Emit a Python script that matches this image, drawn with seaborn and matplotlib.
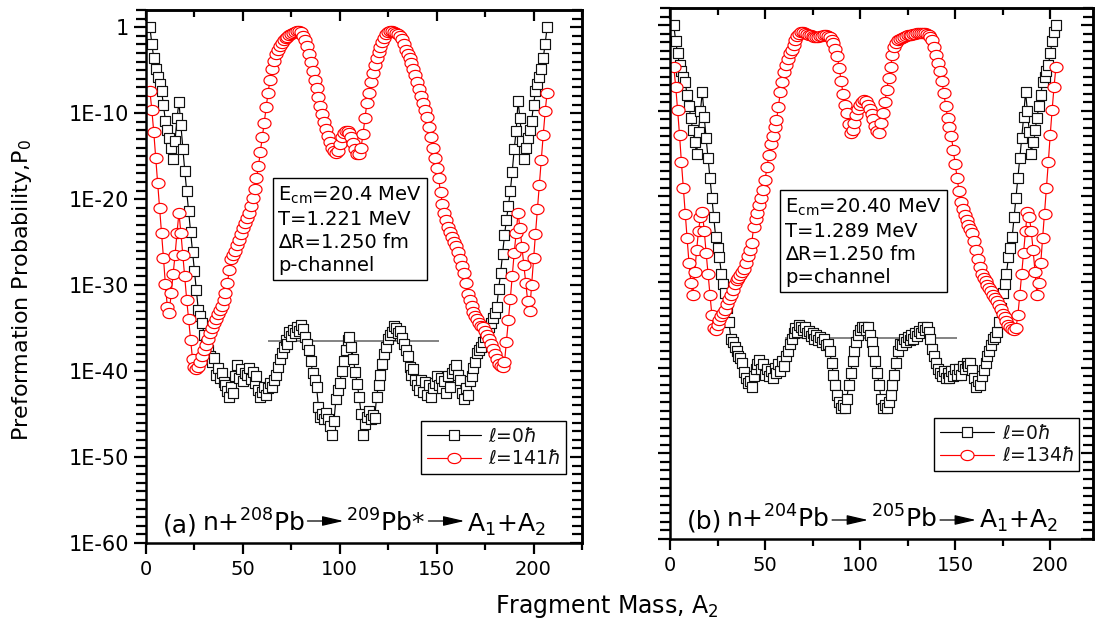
import numpy as np
import pandas as pd
import matplotlib
matplotlib.use("Agg")
import matplotlib.pyplot as plt
from matplotlib.path import Path
from matplotlib.lines import Line2D
from matplotlib.ticker import FixedLocator, FixedFormatter, NullFormatter, MultipleLocator
import seaborn as sns

sns.set_style("ticks")
plt.rcParams['font.family'] = ['DejaVu Sans']
plt.rcParams['mathtext.fontset'] = 'dejavusans'
for k in ('text.color', 'axes.labelcolor', 'xtick.color', 'ytick.color', 'axes.edgecolor'):
    plt.rcParams[k] = 'black'

# ---------------- data (log10 of P0) ----------------
a2_left = list(range(2, 208))
logp_left_l0 = [
    0.0, -1.9, -3.6, -4.9, -5.8, -6.6, -7.4, -9.0, -10.9, -12.0,
    -12.9, -14.0, -15.3, -13.2, -10.6, -8.7, -11.4, -14.2, -16.7, -19.1,
    -21.4, -23.8, -26.1, -28.4, -30.6, -32.9, -33.6, -34.4, -35.8, -36.9,
    -37.6, -38.2, -38.9, -38.5, -40.4, -39.6, -40.8, -40.2, -41.3, -41.6,
    -42.3, -43.0, -41.8, -42.6, -40.6, -39.3, -40.8, -39.8, -41.2, -40.2,
    -40.4, -39.7, -40.9, -40.1, -41.4, -40.6, -42.2, -43.0, -42.4, -41.8,
    -42.8, -42.0, -41.4, -41.8, -41.0, -40.4, -39.5, -38.6, -37.9, -37.2,
    -36.4, -36.8, -35.5, -35.9, -35.2, -35.6, -34.9, -35.3, -34.6, -35.1,
    -36.0, -36.9, -37.5, -38.8, -40.2, -41.0, -41.8, -44.2, -45.4, -45.0,
    -45.6, -44.9, -45.6, -46.4, -47.4, -45.8, -43.3, -42.2, -41.4, -40.0,
    -38.8, -37.5, -36.4, -36.0, -37.2, -38.6, -40.1, -41.5, -43.0, -45.0,
    -47.4, -46.2, -45.3, -44.7, -45.6, -45.1, -45.5, -43.0, -41.6, -40.4,
    -39.2, -38.0, -37.2, -36.3, -35.8, -35.4, -34.7, -35.0, -35.6, -35.3,
    -36.2, -36.8, -37.6, -38.3, -39.5, -40.4, -39.8, -41.0, -41.6, -42.2,
    -41.0, -42.4, -41.3, -42.8, -41.6, -43.0, -42.0, -41.4, -40.6, -41.6,
    -40.8, -42.0, -41.2, -42.6, -40.6, -41.8, -40.2, -39.8, -39.3, -40.4,
    -41.0, -42.6, -43.3, -42.0, -42.8, -41.2, -40.6, -39.6, -38.9, -37.9,
    -37.6, -37.2, -36.6, -36.0, -35.4, -34.9, -34.4, -33.8, -33.2, -32.6,
    -30.4, -28.6, -26.4, -24.2, -22.4, -20.8, -19.1, -16.8, -14.2, -12.1,
    -8.6, -10.6, -13.2, -15.3, -14.0, -12.9, -12.0, -10.9, -9.0, -7.4,
    -6.6, -5.8, -4.9, -3.6, -1.9, 0.0,
]
logp_left_l141 = [
    -7.4, -9.6, -12.2, -15.2, -18.1, -21.0, -23.9, -26.8, -29.9, -32.5,
    -33.3, -30.9, -28.7, -26.5, -23.9, -21.6, -23.9, -26.5, -29.0, -31.7,
    -34.0, -36.4, -38.6, -39.5, -39.8, -39.5, -39.0, -38.3, -37.6, -37.0,
    -36.3, -35.6, -35.0, -34.4, -33.9, -33.4, -32.9, -32.4, -31.7, -30.9,
    -29.8, -28.2, -27.0, -26.5, -26.0, -25.3, -24.7, -24.1, -23.4, -22.8,
    -22.2, -21.6, -20.8, -19.9, -18.8, -17.6, -16.2, -14.5, -12.8, -11.1,
    -9.3, -7.6, -6.1, -4.9, -3.9, -3.1, -2.6, -2.2, -1.8, -1.5,
    -1.3, -1.1, -0.9, -0.8, -0.7, -0.6, -0.5, -0.5, -0.6, -1.0,
    -1.5, -2.2, -3.1, -4.1, -5.1, -6.1, -7.1, -8.1, -9.2, -10.1,
    -11.0, -11.9, -12.7, -13.4, -14.0, -14.4, -14.6, -14.4, -13.6, -12.8,
    -12.3, -12.1, -12.1, -12.3, -12.8, -13.5, -14.2, -14.7, -14.8, -14.0,
    -12.4, -10.6, -8.8, -7.6, -6.4, -5.3, -4.4, -3.6, -2.9, -2.3,
    -1.7, -1.2, -0.8, -0.6, -0.5, -0.5, -0.6, -0.7, -0.8, -1.0,
    -1.4, -2.0, -2.6, -3.1, -3.6, -4.2, -4.9, -5.6, -6.4, -7.2,
    -8.0, -8.8, -9.6, -10.5, -11.6, -12.8, -14.0, -15.2, -16.4, -17.6,
    -19.2, -20.6, -21.6, -22.4, -23.2, -23.8, -24.4, -25.0, -25.5, -26.2,
    -27.0, -27.8, -28.6, -29.8, -31.0, -31.7, -32.4, -33.1, -33.6, -34.0,
    -34.4, -34.7, -34.9, -35.3, -35.8, -36.3, -36.8, -37.4, -38.0, -38.6,
    -39.2, -39.4, -39.5, -39.0, -36.6, -34.1, -31.6, -28.9, -26.3, -23.9,
    -21.6, -23.4, -25.6, -27.7, -29.8, -31.9, -33.0, -30.0, -26.9, -24.0,
    -21.2, -18.3, -15.4, -12.5, -9.8, -7.6,
]
a2_right = list(range(2, 204))
logp_right_l0 = [
    0.0, -1.9, -3.3, -4.7, -5.4, -6.0, -6.6, -8.2, -9.5, -10.9,
    -12.3, -13.6, -15.0, -12.5, -10.0, -7.8, -10.7, -13.2, -15.5, -17.9,
    -20.2, -22.4, -24.7, -26.0, -27.1, -29.0, -30.2, -31.3, -33.0, -34.7,
    -36.6, -37.0, -37.6, -38.0, -38.6, -38.9, -39.5, -40.5, -41.2, -41.8,
    -41.5, -42.3, -41.0, -40.2, -39.6, -39.1, -40.2, -39.6, -40.8, -40.1,
    -41.0, -40.4, -41.2, -40.0, -40.6, -39.6, -40.4, -39.2, -39.8, -38.6,
    -38.0, -37.2, -36.6, -36.0, -35.4, -35.8, -35.0, -35.3, -35.6, -35.2,
    -36.0, -35.7, -36.3, -36.0, -36.6, -36.2, -36.8, -36.4, -37.0, -36.7,
    -37.4, -37.2, -38.0, -39.5, -40.8, -42.0, -43.2, -44.0, -44.7, -44.4,
    -44.7, -43.6, -42.0, -40.6, -39.2, -38.0, -37.0, -36.2, -35.6, -35.3,
    -35.3, -35.6, -35.3, -36.2, -37.0, -38.0, -39.2, -40.6, -42.0, -43.6,
    -44.7, -44.4, -44.7, -44.0, -43.2, -42.0, -40.8, -39.5, -38.0, -37.2,
    -37.4, -36.7, -37.0, -36.4, -36.8, -36.2, -36.6, -36.0, -36.3, -35.7,
    -36.0, -35.2, -35.6, -35.3, -35.8, -36.6, -37.8, -38.6, -39.4, -40.2,
    -40.6, -41.0, -40.4, -41.2, -40.6, -41.2, -40.4, -41.0, -40.2, -40.8,
    -40.2, -40.8, -39.8, -40.2, -39.4, -39.8, -39.5, -40.3, -41.2, -42.2,
    -41.6, -42.0, -41.0, -40.3, -39.4, -38.6, -38.0, -37.3, -36.6, -36.4,
    -35.8, -34.7, -33.0, -31.3, -30.2, -29.0, -27.1, -26.0, -24.7, -22.4,
    -20.2, -17.9, -15.5, -13.2, -10.7, -7.8, -10.0, -12.5, -15.0, -13.6,
    -12.3, -10.9, -9.5, -8.2, -6.6, -6.0, -5.4, -4.7, -3.3, -1.9,
    -0.8, 0.0,
]
logp_right_l134 = [
    -4.9, -7.2, -9.9, -12.8, -16.0, -19.0, -22.0, -24.9, -27.8, -30.1,
    -31.5, -28.8, -26.3, -24.0, -22.4, -21.8, -24.0, -26.6, -29.0, -31.5,
    -33.8, -35.4, -35.6, -35.0, -34.4, -34.0, -33.6, -33.3, -32.6, -32.0,
    -31.5, -30.9, -30.2, -29.8, -29.5, -29.2, -28.8, -28.5, -27.8, -27.0,
    -26.3, -25.4, -23.6, -22.6, -21.9, -21.0, -20.2, -19.2, -18.1, -16.6,
    -15.2, -13.9, -12.9, -11.9, -11.1, -9.6, -7.8, -6.6, -5.5, -4.7,
    -3.9, -3.3, -2.9, -2.3, -1.7, -1.3, -1.0, -0.8, -0.8, -0.9,
    -1.0, -1.1, -1.2, -1.3, -1.35, -1.35, -1.35, -1.3, -1.25, -1.2,
    -1.2, -1.3, -1.4, -1.7, -2.1, -2.8, -3.6, -5.0, -6.5, -8.0,
    -9.3, -10.3, -11.6, -12.6, -12.2, -11.4, -10.5, -9.8, -9.3, -9.0,
    -8.8, -8.9, -9.3, -9.8, -10.4, -11.0, -11.8, -12.4, -12.6, -11.4,
    -10.3, -9.0, -7.6, -6.2, -4.9, -3.5, -2.6, -2.1, -1.75, -1.6,
    -1.5, -1.4, -1.3, -1.2, -1.15, -1.1, -1.0, -1.0, -0.95, -0.95,
    -0.95, -0.95, -0.95, -1.0, -1.1, -1.4, -1.75, -2.6, -3.5, -4.4,
    -5.3, -6.5, -7.9, -9.4, -10.8, -11.9, -13.0, -14.6, -16.2, -17.8,
    -19.4, -20.6, -21.5, -22.2, -22.8, -23.3, -23.8, -24.3, -25.2, -26.3,
    -27.3, -28.2, -29.0, -29.5, -29.9, -30.3, -30.7, -31.1, -31.5, -31.9,
    -32.2, -32.7, -33.2, -33.7, -34.1, -34.6, -35.0, -35.3, -35.5, -35.6,
    -35.4, -33.8, -31.5, -29.0, -26.6, -24.0, -21.8, -22.4, -24.0, -26.3,
    -28.8, -31.5, -30.1, -27.8, -24.9, -22.0, -19.0, -16.0, -12.8, -9.9,
    -7.2, -4.9,
]

# horizontal reference segments: (A2 start, A2 end, log10 P0)
ref_seg_left = (63, 151, -36.5)
ref_seg_right = (60.5, 151, -36.5)

ytick_exps = [0, -10, -20, -30, -40, -50, -60]
ytick_labels = ['1', '1E-10', '1E-20', '1E-30', '1E-40', '1E-50', '1E-60']

legend_left = [r'$\ell$=0$\hbar$', r'$\ell$=141$\hbar$']
legend_right = [r'$\ell$=0$\hbar$', r'$\ell$=134$\hbar$']
box_left = 'E$_{\\mathrm{cm}}$=20.4 MeV\nT=1.221 MeV\n\u2206R=1.250 fm\np-channel'
box_right = 'E$_{\\mathrm{cm}}$=20.40 MeV\nT=1.289 MeV\n\u2206R=1.250 fm\np=channel'
chain_left = ['(a)', 'n+$^{208}$Pb', None, '$^{209}$Pb*', None, 'A$_1$+A$_2$']
chain_right = ['(b)', 'n+$^{204}$Pb', None, '$^{205}$Pb', None, 'A$_1$+A$_2$']

# ---------------- styling ----------------
W, H = 1095, 629
fig = plt.figure(figsize=(W / 100, H / 100), dpi=100)
fig.patch.set_facecolor('white')

t = np.linspace(0, 2 * np.pi, 64)
ellipse = Path(np.column_stack([np.cos(t), 0.78 * np.sin(t)]), closed=True)
square = Path([(-1, -0.92), (1, -0.92), (1, 0.92), (-1, 0.92), (-1, -0.92)], closed=True)

sq_kw = dict(marker=square, markersize=7.6, markerfacecolor='white',
             markeredgecolor='#111111', markeredgewidth=0.85, color='black', linewidth=0.85)
ci_kw = dict(marker=ellipse, markersize=9.4, markerfacecolor='white',
             markeredgecolor='#ff0000', markeredgewidth=0.85, color='#ff0000', linewidth=0.85)


def px_rect(x0, y0, x1, y1):
    return [x0 / W, 1 - y1 / H, (x1 - x0) / W, (y1 - y0) / H]


def style_axes(ax, xmax, show_ylabels):
    ax.set_yscale('log')
    ax.set_ylim(1e-60, 1e2)
    ax.set_xlim(0, xmax)
    ax.xaxis.set_major_locator(MultipleLocator(50))
    ax.xaxis.set_minor_locator(MultipleLocator(25))
    ax.yaxis.set_major_locator(FixedLocator([10.0 ** e for e in ytick_exps]))
    ax.yaxis.set_minor_locator(FixedLocator([10.0 ** e for e in range(-60, 3) if e % 10 != 0]))
    if show_ylabels:
        ax.yaxis.set_major_formatter(FixedFormatter(ytick_labels))
    else:
        ax.yaxis.set_major_formatter(NullFormatter())
    ax.yaxis.set_minor_formatter(NullFormatter())
    ax.tick_params(axis='y', which='major', direction='out', length=9, width=1.6, labelsize=15, pad=3,
                   colors='black')
    ax.tick_params(axis='y', which='minor', direction='out', length=7, width=1.6, colors='black')
    ax.tick_params(axis='x', which='major', direction='out', length=8, width=1.6, labelsize=14, pad=4,
                   colors='black')
    ax.tick_params(axis='x', which='minor', direction='out', length=5, width=1.6, colors='black')
    for s in ax.spines.values():
        s.set_linewidth(1.8)
        s.set_color('black')
        s.set_visible(True)
    ax.set_xlabel('')
    ax.set_ylabel('')
    # mirrored inward ticks
    top = ax.secondary_xaxis('top')
    top.xaxis.set_major_locator(MultipleLocator(50))
    top.xaxis.set_minor_locator(MultipleLocator(25))
    top.xaxis.set_major_formatter(NullFormatter())
    top.tick_params(which='major', direction='in', length=8, width=1.6, colors='black')
    top.tick_params(which='minor', direction='in', length=5, width=1.6, colors='black')
    top.spines['top'].set_linewidth(1.8)
    top.spines['top'].set_color('black')
    right = ax.secondary_yaxis('right')
    right.yaxis.set_major_locator(FixedLocator([10.0 ** e for e in ytick_exps]))
    right.yaxis.set_minor_locator(FixedLocator([10.0 ** e for e in range(-60, 3) if e % 10 != 0]))
    right.yaxis.set_major_formatter(NullFormatter())
    right.yaxis.set_minor_formatter(NullFormatter())
    right.tick_params(which='major', direction='in', length=9, width=1.6, colors='black')
    right.tick_params(which='minor', direction='in', length=7, width=1.6, colors='black')
    right.spines['right'].set_linewidth(1.8)
    right.spines['right'].set_color('black')


def draw_panel(ax, a2, l0, lx, seg):
    d0 = pd.DataFrame({'A2': a2, 'P0': 10.0 ** np.array(l0)})
    d1 = pd.DataFrame({'A2': a2, 'P0': 10.0 ** np.array(lx)})
    sns.lineplot(data=d0, x='A2', y='P0', ax=ax, sort=False, errorbar=None, legend=False, **sq_kw)
    sns.lineplot(data=d1, x='A2', y='P0', ax=ax, sort=False, errorbar=None, legend=False, **ci_kw)
    ax.hlines(10.0 ** seg[2], seg[0], seg[1], color='#6e6e6e', lw=1.2, zorder=1)
    return [Line2D([], [], **sq_kw), Line2D([], [], **ci_kw)]


axL = fig.add_axes(px_rect(146, 10, 582, 543))
axR = fig.add_axes(px_rect(670, 8, 1093, 539))

hL = draw_panel(axL, a2_left, logp_left_l0, logp_left_l141, ref_seg_left)
hR = draw_panel(axR, a2_right, logp_right_l0, logp_right_l134, ref_seg_right)
style_axes(axL, 225, True)
style_axes(axR, 222.5, False)

leg_kw = dict(frameon=True, fancybox=False, framealpha=1, edgecolor='black', fontsize=13.5,
              borderpad=0.3, handlelength=2.9, handletextpad=0.4, labelspacing=0.2,
              borderaxespad=0, loc='upper left')
lgL = axL.legend(hL, legend_left, bbox_to_anchor=((421 - 146) / 436, (543 - 421) / 533), **leg_kw)
lgR = axR.legend(hR, legend_right, bbox_to_anchor=((934 - 670) / 423, (539 - 418) / 531), **leg_kw)
for lg in (lgL, lgR):
    lg.get_frame().set_linewidth(1.0)
    for tx in lg.get_texts():
        tx.set_color('#111111')

box_kw = dict(boxstyle='square,pad=0.28', fc='white', ec='black', lw=1.0)
axL.text((278 - 146) / 436, (543 - 185) / 533, box_left, transform=axL.transAxes, fontsize=14,
         va='top', ha='left', linespacing=1.25, bbox=box_kw)
axR.text((785 - 670) / 423, (539 - 197) / 531, box_right, transform=axR.transAxes, fontsize=14,
         va='top', ha='left', linespacing=1.25, bbox=box_kw)

fig.text(22 / W, 1 - 290 / H, 'Preformation Probability,P$_0$', rotation=90,
         ha='center', va='center', fontsize=16)
fig.text(607 / W, 1 - 607 / H, 'Fragment Mass, A$_2$', ha='center', va='center', fontsize=17)

# reaction chains with arrows
fig.canvas.draw()
renderer = fig.canvas.get_renderer()


def draw_chain(pieces, x0, baseline, arrow_y, fs, arrow_len):
    x = x0
    for p in pieces:
        if p is None:
            xs = x + 3
            xe = xs + arrow_len
            fig.add_artist(matplotlib.patches.FancyArrowPatch(
                (xs / W, 1 - arrow_y / H), (xe / W, 1 - arrow_y / H), transform=fig.transFigure,
                arrowstyle='-|>,head_length=1.3,head_width=0.3', mutation_scale=10,
                color='black', lw=0.9, shrinkA=0, shrinkB=0))
            x = xe + 3
        else:
            txt = fig.text(x / W, 1 - baseline / H, p, fontsize=fs, ha='left', va='baseline')
            bb = txt.get_window_extent(renderer)
            x = bb.x1 + (4 if p.startswith('(') else 0)


draw_chain(chain_left, 163, 532, 521, 18, 36)
draw_chain(chain_right, 687, 528, 520, 18, 36)

fig.savefig('out.png', dpi=100, facecolor='white')
